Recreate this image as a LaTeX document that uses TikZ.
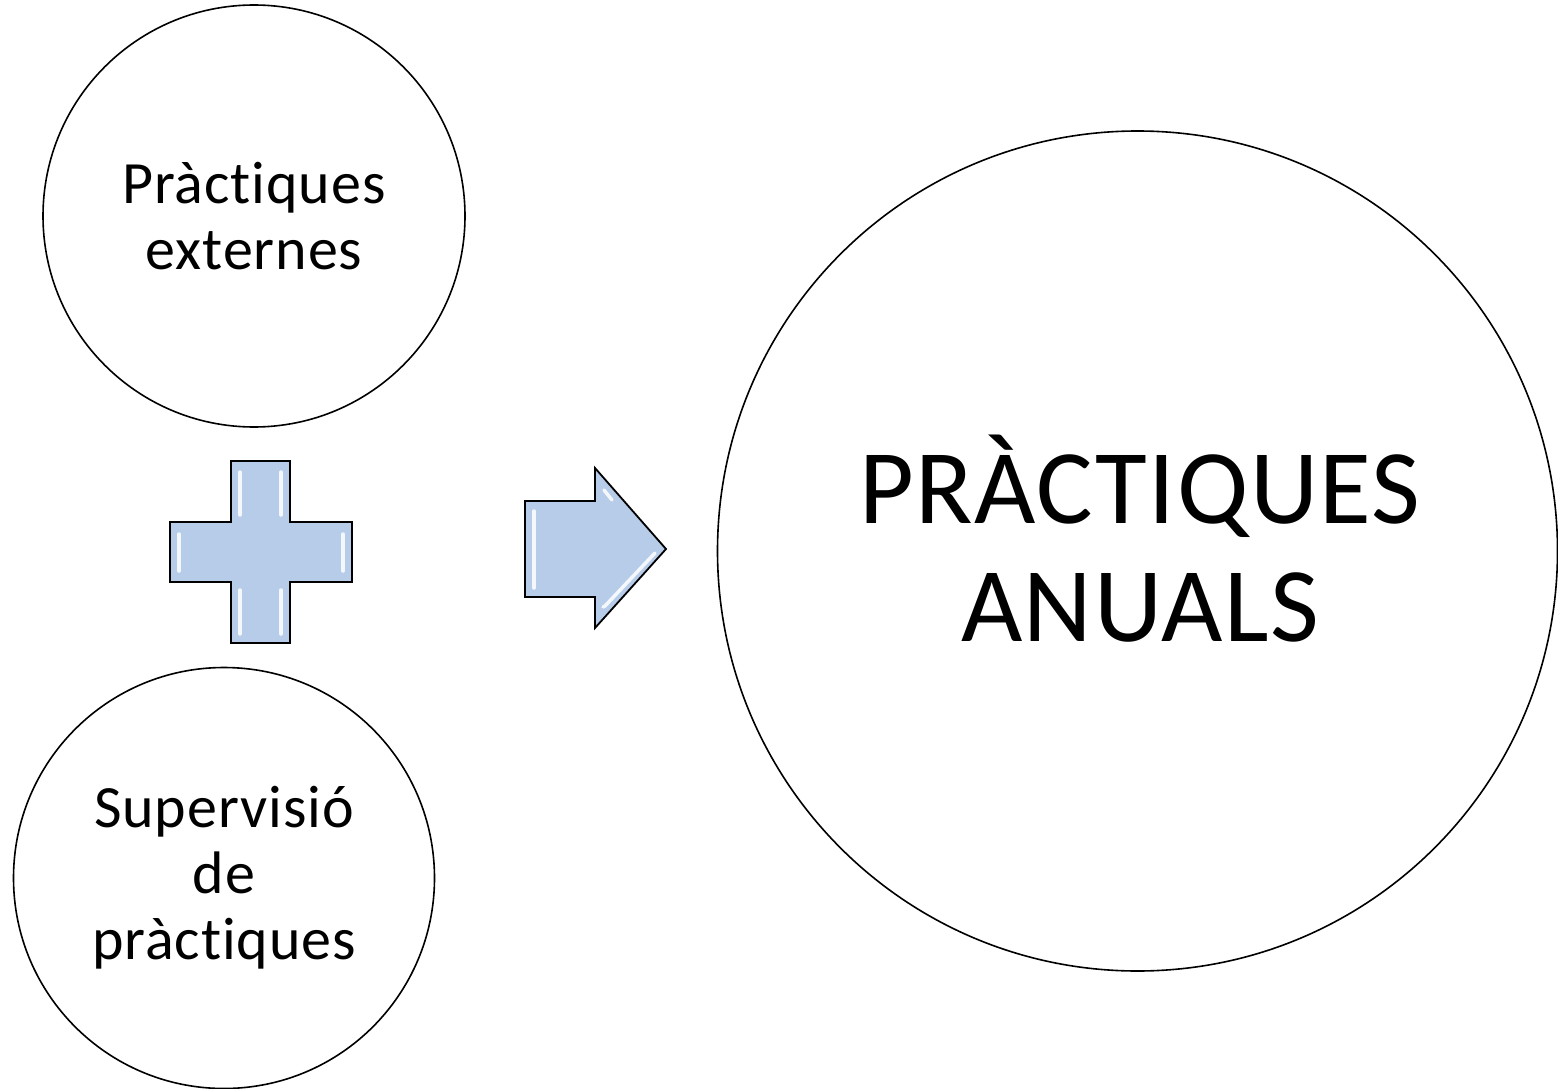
\documentclass[tikz,border=0pt]{standalone}
\usepackage{fontspec}
\setmainfont{Carlito}[Ligatures=NoCommon]
\definecolor{shapefill}{HTML}{B6CCE8}
\begin{document}
\begin{tikzpicture}[x=1pt,y=-1pt,
  bubble/.style={circle,draw=black,line width=1.6pt,align=center,inner sep=0pt},
  smalltxt/.style={font=\fontsize{60}{66}\selectfont\addfontfeatures{LetterSpace=1.5}},
  bigtxt/.style={font=\fontsize{106}{118}\selectfont\addfontfeatures{LetterSpace=1.5}},
  bevel/.style={draw=black,line width=1.8pt,fill=shapefill,line join=miter},
  shine/.style={white,line width=3.5pt,opacity=0.85,line cap=round}]
\useasboundingbox (0,0) rectangle (1558,1089);
\node[bubble,smalltxt,minimum size=422pt] (ext) at (254,216) {Pràctiques\\externes};
\node[bubble,smalltxt,minimum size=421pt] (sup) at (224,878) {Supervisió\\de\\pràctiques};
\node[bubble,minimum size=840pt] (anual) at (1137.5,551) {};
\node[align=center,bigtxt,inner sep=0pt] (anualtxt) at (1140,539) {PRÀCTIQUES\\ANUALS};
% plus sign
\draw[bevel] (231,461) -- (290,461) -- (290,522) -- (352,522) -- (352,582) -- (290,582)
  -- (290,643) -- (231,643) -- (231,582) -- (170,582) -- (170,522) -- (231,522) -- cycle;
\draw[shine] (240,472) -- (240,515);
\draw[shine] (281,472) -- (281,515);
\draw[shine] (240,590) -- (240,634);
\draw[shine] (281,590) -- (281,634);
\draw[shine] (179,534) -- (179,571);
\draw[shine] (343,534) -- (343,571);
% arrow
\draw[bevel] (525,501) -- (595,501) -- (595,468) -- (666,549) -- (595,628) -- (595,597)
  -- (525,597) -- cycle;
\draw[shine] (534,511) -- (534,588);
\draw[shine] (604,490) -- (612,500);
\draw[shine] (603,607) -- (605,606) -- (655,553);
\end{tikzpicture}
\end{document}
